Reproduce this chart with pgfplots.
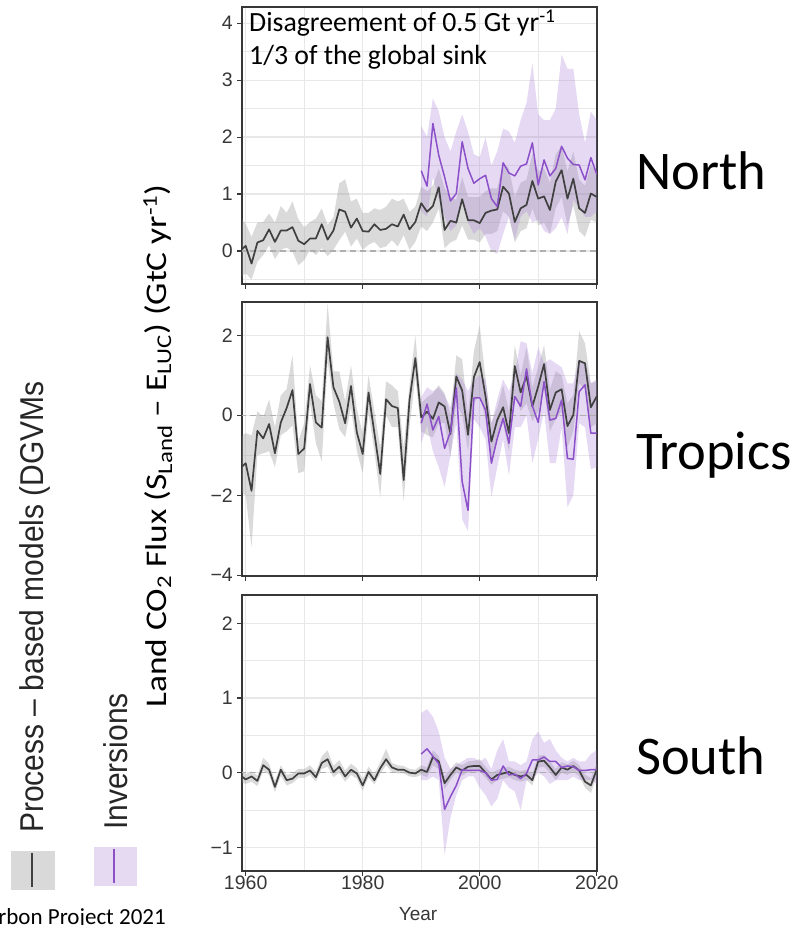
\documentclass[border=0pt]{standalone}
\usepackage{fontspec}
\setmainfont{Liberation Sans}
\newfontfamily\carlito{Carlito}
\usepackage{graphicx}
\usepackage{pgfplots}
\pgfplotsset{compat=1.18}
\usepackage{pgfplotstable}
\usepgfplotslibrary{fillbetween}

\definecolor{bandgray}{RGB}{150,150,150}
\definecolor{bandpurp}{RGB}{170,130,215}
\definecolor{linegray}{RGB}{64,64,64}
\definecolor{linepurp}{RGB}{140,80,200}
\definecolor{gridc}{RGB}{232,232,232}
\definecolor{framec}{RGB}{55,55,55}
\definecolor{tickc}{RGB}{55,55,55}
\definecolor{zeroc}{RGB}{175,175,175}

\pgfplotstableread{
yr m lo hi
1959 0.00 -0.48 0.60
1960 0.09 -0.39 0.48
1961 -0.22 -0.50 0.25
1962 0.15 -0.19 0.50
1963 0.19 -0.07 0.51
1964 0.38 0.10 0.66
1965 0.16 -0.14 0.50
1966 0.36 0.02 0.79
1967 0.36 0.06 0.67
1968 0.42 -0.01 0.87
1969 0.18 -0.25 0.56
1970 0.12 -0.16 0.42
1971 0.22 0.02 0.51
1972 0.22 -0.07 0.57
1973 0.47 0.05 0.75
1974 0.20 -0.09 0.46
1975 0.36 0.02 0.59
1976 0.73 0.19 1.19
1977 0.69 0.34 1.26
1978 0.41 0.08 0.87
1979 0.57 0.22 0.92
1980 0.35 0.02 0.67
1981 0.34 0.11 0.67
1982 0.47 0.16 0.75
1983 0.37 0.05 0.72
1984 0.39 0.08 0.78
1985 0.47 0.19 0.92
1986 0.43 0.08 0.87
1987 0.64 0.28 0.92
1988 0.38 0.02 0.69
1989 0.51 0.16 0.78
1990 0.84 0.43 1.13
1991 0.69 0.35 1.05
1992 0.79 0.50 1.15
1993 1.12 0.75 1.45
1994 0.37 0.05 1.10
1995 0.53 0.15 0.95
1996 0.50 0.20 0.90
1997 0.91 0.45 1.30
1998 0.54 0.20 0.95
1999 0.54 0.20 0.95
2000 0.49 0.15 0.95
2001 0.67 0.30 1.05
2002 0.71 0.30 1.10
2003 0.73 0.35 1.10
2004 1.13 0.70 1.55
2005 1.01 0.60 1.45
2006 0.51 0.15 0.95
2007 0.75 0.35 1.20
2008 0.81 0.40 1.25
2009 1.23 0.75 1.70
2010 0.92 0.45 1.40
2011 0.96 0.50 1.45
2012 0.72 0.30 1.20
2013 1.22 0.75 1.70
2014 1.42 0.95 1.85
2015 0.92 0.45 1.40
2016 1.27 0.80 1.75
2017 0.75 0.35 1.25
2018 0.67 0.25 1.15
2019 1.01 0.55 1.50
2020 0.95 0.50 1.40
}\topG

\pgfplotstableread{
yr m lo hi
1990 1.41 0.70 2.20
1991 1.14 0.60 2.00
1992 2.24 1.30 2.68
1993 1.68 0.90 2.45
1994 1.30 0.60 2.00
1995 0.88 0.35 1.75
1996 1.01 0.45 2.10
1997 1.92 0.90 2.40
1998 1.45 0.50 2.10
1999 1.19 0.30 1.70
2000 1.27 0.40 1.65
2001 1.33 0.25 2.00
2002 0.92 0.00 1.50
2003 0.78 -0.05 1.75
2004 1.55 0.30 2.15
2005 1.37 0.60 2.10
2006 1.32 0.20 1.90
2007 1.49 0.60 2.30
2008 1.53 0.70 2.60
2009 1.90 0.50 3.30
2010 1.16 0.55 2.40
2011 1.60 0.35 2.30
2012 1.32 0.30 2.30
2013 1.45 0.40 2.50
2014 1.84 0.60 3.45
2015 1.63 0.30 3.20
2016 1.52 0.90 3.20
2017 1.51 0.75 2.40
2018 1.25 0.60 1.90
2019 1.64 0.60 2.45
2020 1.35 0.70 2.30
}\topP

\pgfplotstableread{
yr m lo hi
1959 -1.33 -1.90 -0.55
1960 -1.20 -2.00 -0.45
1961 -1.89 -3.30 -0.50
1962 -0.39 -1.00 0.10
1963 -0.58 -0.95 -0.05
1964 -0.22 -0.90 0.40
1965 -0.95 -1.30 -0.30
1966 -0.18 -0.50 0.50
1967 0.18 -0.40 0.65
1968 0.63 -0.25 1.50
1969 -0.97 -1.45 -0.65
1970 -0.83 -1.40 -0.20
1971 0.78 0.30 1.25
1972 -0.18 -0.70 0.50
1973 -0.31 -1.15 0.35
1974 1.95 1.35 2.80
1975 0.70 0.30 1.10
1976 0.34 -0.35 1.10
1977 -0.20 -0.55 0.35
1978 0.73 0.20 1.25
1979 -0.43 -0.90 0.15
1980 -0.97 -1.45 -0.45
1981 0.57 0.05 1.00
1982 -0.45 -0.90 0.10
1983 -1.47 -2.05 -0.80
1984 0.40 0.00 0.85
1985 0.23 -0.30 0.75
1986 0.18 -0.30 0.60
1987 -1.62 -2.15 -0.80
1988 0.38 -0.30 0.75
1989 1.43 0.95 2.00
1990 -0.05 -0.40 0.30
1991 0.09 -0.50 0.45
1992 -0.09 -0.55 0.55
1993 0.32 -0.20 0.75
1994 0.22 -0.20 0.55
1995 -0.47 -1.05 0.00
1996 0.97 0.30 1.50
1997 0.62 0.00 1.40
1998 -0.49 -0.90 0.00
1999 0.95 0.30 1.60
2000 1.33 0.50 2.25
2001 0.47 -0.10 0.90
2002 -0.66 -1.20 -0.20
2003 -0.12 -0.50 0.20
2004 0.20 -0.20 0.75
2005 -0.45 -0.90 0.10
2006 1.23 0.55 1.75
2007 0.57 0.10 1.00
2008 0.98 0.30 1.70
2009 0.22 -0.15 0.70
2010 0.72 0.10 1.20
2011 1.28 0.65 1.75
2012 0.13 -0.40 0.65
2013 0.57 -0.10 1.10
2014 0.65 0.10 1.00
2015 -0.27 -0.80 0.30
2016 0.01 -0.40 0.50
2017 1.36 0.80 2.10
2018 1.30 0.65 1.80
2019 0.20 -0.30 0.80
2020 0.47 -0.20 0.85
}\midG

\pgfplotstableread{
yr m lo hi
1990 -0.20 -0.70 0.45
1991 0.28 -0.25 0.70
1992 -0.37 -0.90 0.60
1993 -0.03 -1.30 0.70
1994 -0.83 -1.80 0.50
1995 -0.41 -1.00 0.20
1996 0.68 -0.20 1.05
1997 -1.66 -2.60 0.90
1998 -2.38 -2.90 0.60
1999 0.43 -0.10 0.90
2000 0.44 -0.30 1.00
2001 0.13 -0.60 0.90
2002 -1.20 -2.05 -0.20
2003 -0.58 -1.30 0.40
2004 -0.08 -0.60 0.90
2005 -0.70 -1.50 0.60
2006 0.47 -0.30 1.05
2007 0.22 -0.30 1.85
2008 1.16 0.00 1.80
2009 0.23 -1.20 1.05
2010 -0.18 -0.60 1.70
2011 0.84 0.10 1.30
2012 -0.12 -1.20 1.40
2013 -0.08 -1.20 1.30
2014 0.38 -0.30 1.20
2015 -1.08 -2.30 0.80
2016 -1.10 -2.00 0.80
2017 0.59 -0.20 1.40
2018 0.76 -0.30 1.30
2019 -0.45 -1.35 0.80
2020 -0.45 -1.30 0.90
}\midP

\pgfplotstableread{
yr m lo hi
1959 -0.03 -0.12 0.05
1960 -0.09 -0.15 -0.02
1961 -0.05 -0.12 0.02
1962 -0.11 -0.18 -0.04
1963 0.10 0.03 0.20
1964 0.04 -0.03 0.12
1965 -0.19 -0.26 -0.11
1966 0.04 -0.04 0.10
1967 -0.10 -0.17 -0.03
1968 -0.08 -0.14 -0.01
1969 -0.01 -0.07 0.05
1970 -0.01 -0.07 0.05
1971 0.03 -0.03 0.10
1972 -0.06 -0.12 0.01
1973 0.13 0.05 0.22
1974 0.18 0.08 0.30
1975 0.01 -0.06 0.09
1976 0.08 0.00 0.17
1977 -0.05 -0.12 0.03
1978 0.04 -0.03 0.12
1979 -0.01 -0.08 0.06
1980 -0.17 -0.24 -0.08
1981 0.01 -0.06 0.08
1982 -0.10 -0.16 -0.02
1983 0.06 -0.01 0.14
1984 0.18 0.10 0.32
1985 0.07 0.01 0.13
1986 0.04 -0.01 0.10
1987 0.04 -0.01 0.09
1988 0.00 -0.05 0.05
1989 -0.01 -0.06 0.04
1990 0.04 -0.03 0.10
1991 0.01 -0.06 0.07
1992 0.21 0.10 0.30
1993 0.15 0.05 0.22
1994 -0.14 -0.22 -0.05
1995 -0.03 -0.10 0.05
1996 0.07 0.00 0.14
1997 0.03 -0.04 0.10
1998 0.08 0.01 0.15
1999 0.09 0.02 0.16
2000 0.09 0.02 0.18
2001 0.00 -0.07 0.08
2002 -0.09 -0.16 -0.01
2003 -0.03 -0.10 0.04
2004 -0.01 -0.08 0.06
2005 0.01 -0.06 0.08
2006 -0.03 -0.10 0.04
2007 -0.05 -0.12 0.02
2008 -0.03 -0.10 0.04
2009 -0.10 -0.17 -0.02
2010 0.15 0.07 0.23
2011 0.16 0.08 0.24
2012 0.07 0.00 0.15
2013 -0.03 -0.10 0.05
2014 0.07 0.00 0.14
2015 0.04 -0.03 0.11
2016 0.09 0.02 0.16
2017 0.03 -0.05 0.10
2018 -0.12 -0.20 -0.03
2019 -0.17 -0.27 -0.07
2020 0.04 -0.05 0.12
}\botG

\pgfplotstableread{
yr m lo hi
1990 0.25 -0.10 0.80
1991 0.32 -0.10 0.85
1992 0.22 -0.05 0.75
1993 0.12 -0.10 0.55
1994 -0.49 -1.10 0.20
1995 -0.32 -0.60 0.05
1996 -0.17 -0.30 0.10
1997 0.04 -0.10 0.15
1998 0.03 -0.05 0.20
1999 0.03 -0.05 0.20
2000 0.03 -0.20 0.15
2001 0.00 -0.30 0.20
2002 -0.10 -0.45 0.05
2003 -0.09 -0.35 0.30
2004 0.09 -0.10 0.45
2005 -0.03 -0.20 0.15
2006 -0.02 -0.25 0.15
2007 -0.08 -0.50 0.10
2008 -0.01 -0.10 0.15
2009 0.17 -0.10 0.45
2010 0.17 0.00 0.55
2011 0.21 -0.05 0.40
2012 0.15 -0.15 0.45
2013 0.15 -0.10 0.30
2014 0.07 -0.10 0.20
2015 0.09 -0.10 0.15
2016 0.08 -0.05 0.20
2017 0.03 -0.10 0.15
2018 0.03 -0.10 0.15
2019 0.04 -0.10 0.25
2020 0.04 -0.15 0.30
}\botP

\pgfplotsset{
  panel/.style={
    scale only axis, width=355pt,
    xmin=1959.37, xmax=2020.05,
    xtick={1960,1980,2000,2020}, minor xtick={1970,1990,2010},
    grid=both,
    major grid style={draw=gridc, line width=1.3pt},
    minor grid style={draw=gridc, line width=0.8pt},
    axis line style={draw=framec, line width=1.8pt},
    tick style={draw=framec, line width=1.2pt},
    major tick length=5pt, minor tick length=0pt,
    tick align=outside, tick pos=left,
    tick label style={font=\fontsize{19.5pt}{19.5pt}\selectfont, text=tickc},
    yticklabel style={anchor=east, inner sep=0pt, xshift=-4pt},
    xticklabel style={anchor=north, inner sep=0pt},
  },
}

\newcommand{\panelplots}[2]{%
  \addplot[name path=gu, draw=none, forget plot] table[x=yr, y=hi]{#1};
  \addplot[name path=gl, draw=none, forget plot] table[x=yr, y=lo]{#1};
  \addplot[fill=bandgray, fill opacity=0.35, draw=none, forget plot] fill between[of=gu and gl];
  \addplot[name path=pu, draw=none, forget plot] table[x=yr, y=hi]{#2};
  \addplot[name path=pl, draw=none, forget plot] table[x=yr, y=lo]{#2};
  \addplot[fill=bandpurp, fill opacity=0.30, draw=none, forget plot] fill between[of=pu and pl];
  \addplot[zeroc, line width=1.1pt, dash pattern=on 6pt off 4pt, forget plot] coordinates {(1959,0) (2021,0)};
  \addplot[linegray, line width=1.7pt, line join=round] table[x=yr, y=m]{#1};
  \addplot[linepurp, line width=1.5pt, line join=round] table[x=yr, y=m]{#2};
}

\begin{document}
\begin{tikzpicture}
\path (0pt,0pt) rectangle (798pt,925pt);

% North
\begin{axis}[panel, at={(242pt,641pt)}, anchor=south west, height=277pt,
  ymin=-0.579, ymax=4.286, ytick={0,1,2,3,4}, yticklabels={0,1,2,3,4},
  minor ytick={-0.5,0.5,1.5,2.5,3.5}, xticklabels={}]
  \panelplots{\topG}{\topP}
\end{axis}

% Tropics
\begin{axis}[panel, at={(242pt,349pt)}, anchor=south west, height=274.3pt,
  ymin=-4.02, ymax=2.84, ytick={-4,-2,0,2}, yticklabels={−4,−2,0,2},
  minor ytick={-3,-1,1}, xticklabels={}]
  \panelplots{\midG}{\midP}
\end{axis}

% South
\begin{axis}[panel, at={(242pt,54.3pt)}, anchor=south west, height=275.7pt,
  ymin=-1.312, ymax=2.379, ytick={-1,0,1,2}, yticklabels={−1,0,1,2},
  minor ytick={-0.5,0.5,1.5}, xticklabels={1960,1980,2000,2020}]
  \panelplots{\botG}{\botP}
\end{axis}

% annotation
\node[anchor=base west, inner sep=0pt, font=\carlito\fontsize{27.8pt}{27.8pt}\selectfont] at (249pt,893pt) {Disagreement of 0.5 Gt yr\textsuperscript{-1}};
\node[anchor=base west, inner sep=0pt, font=\carlito\fontsize{27.8pt}{27.8pt}\selectfont] at (249pt,860pt) {1/3 of the global sink};

% region labels
\node[overlay, anchor=base west, inner sep=0pt, font=\carlito\fontsize{54.5pt}{54.5pt}\selectfont] at (636pt,735pt) {North};
\node[overlay, anchor=base west, inner sep=0pt, font=\carlito\fontsize{54.5pt}{54.5pt}\selectfont] at (636pt,455pt) {Tropics};
\node[overlay, anchor=base west, inner sep=0pt, font=\carlito\fontsize{54.5pt}{54.5pt}\selectfont] at (636pt,150pt) {South};

% y label
\node[anchor=base, rotate=90, inner sep=0pt, font=\carlito\fontsize{30pt}{30pt}\selectfont] at (166pt,479pt)
  {\scalebox{1.18}[1]{Land CO\textsubscript{2} Flux (S\textsubscript{Land} – E\textsubscript{LUC}) (GtC yr\textsuperscript{-1})}};

% x label
\node[overlay, anchor=base, inner sep=0pt, font=\fontsize{19pt}{19pt}\selectfont, text=tickc] at (418pt,5pt) {Year};

% legend
\node[anchor=base west, rotate=90, inner sep=0pt, font=\fontsize{30pt}{30pt}\selectfont, text=black!85] at (43pt,92pt) {\scalebox{1}[1.1]{Process – based models (DGVMs}};
\node[anchor=base west, rotate=90, inner sep=0pt, font=\fontsize{30pt}{30pt}\selectfont, text=black!85] at (127pt,95pt) {\scalebox{1}[1.1]{Inversions}};
\fill[fill={rgb,255:red,217;green,217;blue,217}] (11pt,35pt) rectangle (55pt,74pt);
\draw[linegray, line width=1.6pt] (32pt,38pt) -- (32pt,72pt);
\fill[fill={rgb,255:red,230;green,218;blue,243}] (94pt,39pt) rectangle (137pt,78pt);
\draw[linepurp, line width=1.5pt] (114pt,42pt) -- (114pt,76pt);

% source
\node[overlay, anchor=base east, inner sep=0pt, font=\carlito\fontsize{23pt}{23pt}\selectfont] at (166pt,1pt) {Global Carbon Project 2021};
\end{tikzpicture}
\end{document}
